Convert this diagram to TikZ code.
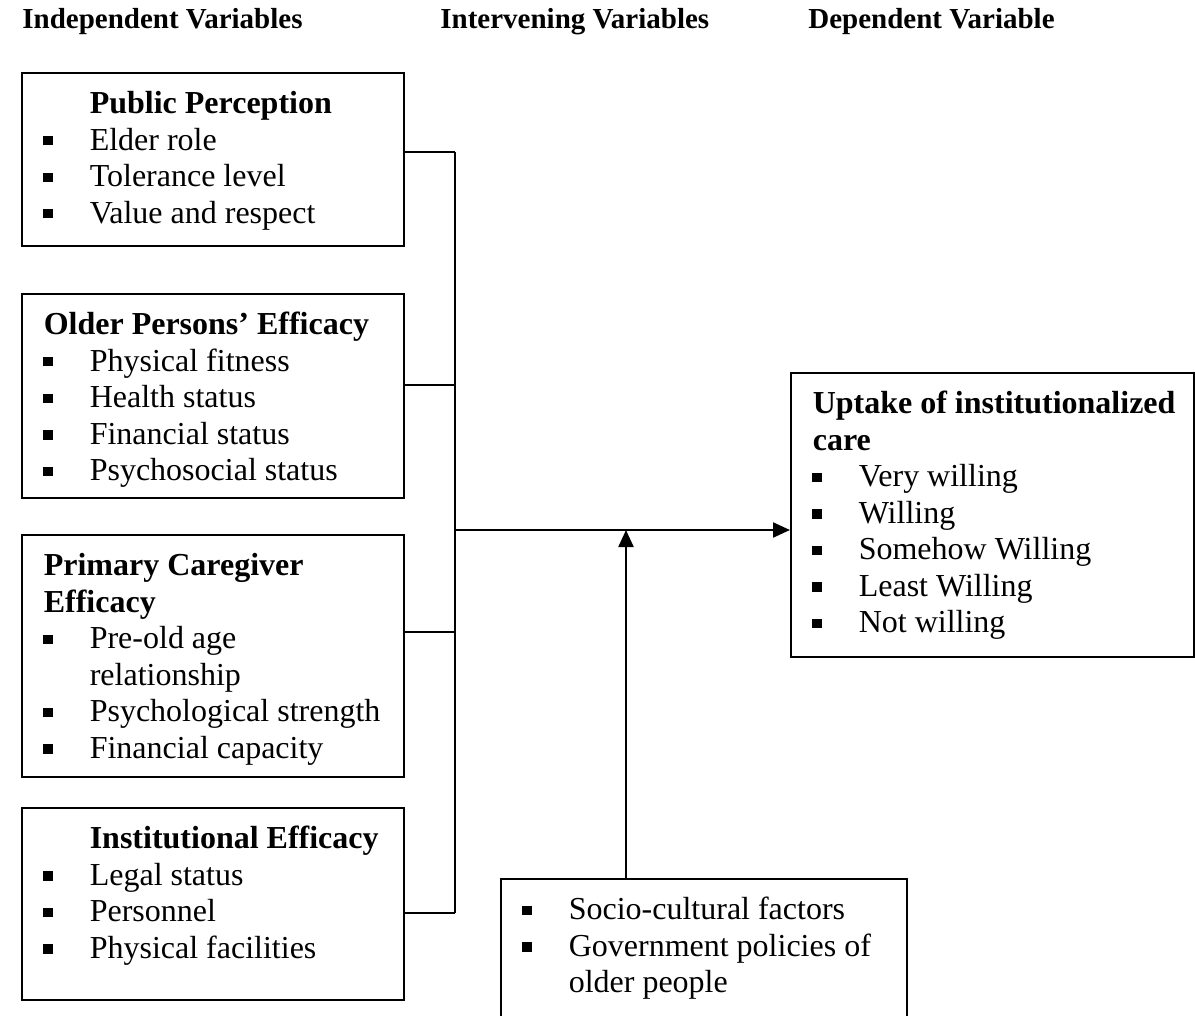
\documentclass[tikz,border=0pt]{standalone}
\usepackage{fontspec}
\setmainfont{Liberation Serif}
\usetikzlibrary{arrows.meta}
\newcommand\mystrut{\vrule height13pt depth5.25pt width0pt\relax}
\newcommand\tline[2]{\hbox{\hspace*{#1}\mystrut #2}}
\newcommand\bitem[1]{\hbox{\makebox[34pt][l]{\hspace*{10.8pt}\rule[2.4pt]{4.7pt}{4.7pt}}\mystrut #1}}
\newcommand\boxbody[3]{\vbox to #2{\offinterlineskip\hrule height0pt depth0pt width #1\kern7.5pt #3\vss}}
\tikzset{
  varbox/.style={draw, line width=0.8pt, anchor=north west, inner sep=0pt,
    font=\fontsize{16pt}{18.25pt}\selectfont},
  head/.style={anchor=base west, inner sep=0pt, font=\fontsize{14.5pt}{17pt}\selectfont\bfseries},
  link/.style={line width=0.8pt},
  flow/.style={line width=1.1pt, -{Triangle[length=8.5pt,width=7.5pt]}}
}
\begin{document}
\begin{tikzpicture}[x=0.5pt,y=-0.5pt]
\clip (0,0) rectangle (1195,1016);
\node[head] (h1) at (22,29) {Independent Variables};
\node[head] (h2) at (440,29) {Intervening Variables};
\node[head] (h3) at (808,29) {Dependent Variable};

\node[varbox] (b1) at (21,72) {\boxbody{191pt}{86.5pt}{%
  \tline{34pt}{\bfseries Public Perception}
  \bitem{Elder role}
  \bitem{Tolerance level}
  \bitem{Value and respect}}};
\node[varbox] (b2) at (21,293) {\boxbody{191pt}{102pt}{%
  \tline{11pt}{\bfseries Older Persons’ Efficacy}
  \bitem{Physical fitness}
  \bitem{Health status}
  \bitem{Financial status}
  \bitem{Psychosocial status}}};
\node[varbox] (b3) at (21,534) {\boxbody{191pt}{121pt}{%
  \tline{11pt}{\bfseries Primary Caregiver}
  \tline{11pt}{\bfseries Efficacy}
  \bitem{Pre-old age}
  \tline{34pt}{relationship}
  \bitem{Psychological strength}
  \bitem{Financial capacity}}};
\node[varbox] (b4) at (21,807) {\boxbody{191pt}{96pt}{%
  \tline{34pt}{\bfseries Institutional Efficacy}
  \bitem{Legal status}
  \bitem{Personnel}
  \bitem{Physical facilities}}};
\node[varbox] (out) at (790,372) {\boxbody{201.5pt}{142pt}{%
  \tline{11pt}{\bfseries Uptake of institutionalized}
  \tline{11pt}{\bfseries care}
  \bitem{Very willing}
  \bitem{Willing}
  \bitem{Somehow Willing}
  \bitem{Least Willing}
  \bitem{Not willing}}};
\node[varbox] (mid) at (500,878) {\boxbody{203pt}{85pt}{%
  \bitem{Socio-cultural factors}
  \bitem{Government policies of}
  \tline{34pt}{older people}}};

\coordinate (j1) at (455,152);
\coordinate (j2) at (455,385);
\coordinate (j3) at (455,632);
\coordinate (j4) at (455,913);
\coordinate (jm) at (455,530);
\coordinate (va) at (626,530);

\draw[link] (b1.east |- j1) -- (j1);
\draw[link] (b2.east |- j2) -- (j2);
\draw[link] (b3.east |- j3) -- (j3);
\draw[link] (b4.east |- j4) -- (j4);
\draw[link] (j1) -- (j4);
\draw[flow] (jm) -- (out.west |- jm);
\draw[flow] (mid.north -| va) -- (va);
\end{tikzpicture}
\end{document}
